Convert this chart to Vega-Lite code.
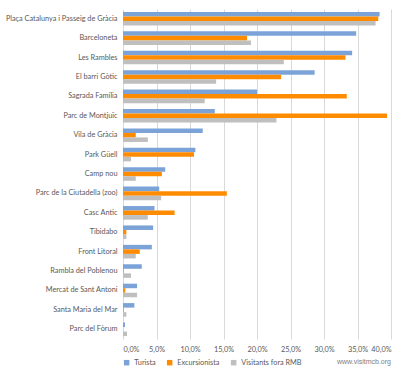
{
  "$schema": "https://vega.github.io/schema/vega-lite/v6.json",
  "width": 268,
  "height": 330,
  "padding": {"left": 5, "top": 9, "right": 10, "bottom": 5},
  "background": "white",
  "data": {"values": [
    {"lloc": "Plaça Catalunya i Passeig de Gràcia", "tipus": "Turista", "valor": 38.3},
    {"lloc": "Plaça Catalunya i Passeig de Gràcia", "tipus": "Excursionista", "valor": 38.1},
    {"lloc": "Plaça Catalunya i Passeig de Gràcia", "tipus": "Visitants fora RMB", "valor": 37.7},
    {"lloc": "Barceloneta", "tipus": "Turista", "valor": 34.8},
    {"lloc": "Barceloneta", "tipus": "Excursionista", "valor": 18.5},
    {"lloc": "Barceloneta", "tipus": "Visitants fora RMB", "valor": 19.1},
    {"lloc": "Les Rambles", "tipus": "Turista", "valor": 34.2},
    {"lloc": "Les Rambles", "tipus": "Excursionista", "valor": 33.2},
    {"lloc": "Les Rambles", "tipus": "Visitants fora RMB", "valor": 24.0},
    {"lloc": "El barri Gòtic", "tipus": "Turista", "valor": 28.6},
    {"lloc": "El barri Gòtic", "tipus": "Excursionista", "valor": 23.6},
    {"lloc": "El barri Gòtic", "tipus": "Visitants fora RMB", "valor": 13.9},
    {"lloc": "Sagrada Família", "tipus": "Turista", "valor": 20.0},
    {"lloc": "Sagrada Família", "tipus": "Excursionista", "valor": 33.4},
    {"lloc": "Sagrada Família", "tipus": "Visitants fora RMB", "valor": 12.2},
    {"lloc": "Parc de Montjuïc", "tipus": "Turista", "valor": 13.7},
    {"lloc": "Parc de Montjuïc", "tipus": "Excursionista", "valor": 39.4},
    {"lloc": "Parc de Montjuïc", "tipus": "Visitants fora RMB", "valor": 22.9},
    {"lloc": "Vila de Gràcia", "tipus": "Turista", "valor": 11.9},
    {"lloc": "Vila de Gràcia", "tipus": "Excursionista", "valor": 1.9},
    {"lloc": "Vila de Gràcia", "tipus": "Visitants fora RMB", "valor": 3.7},
    {"lloc": "Park Güell", "tipus": "Turista", "valor": 10.8},
    {"lloc": "Park Güell", "tipus": "Excursionista", "valor": 10.6},
    {"lloc": "Park Güell", "tipus": "Visitants fora RMB", "valor": 1.2},
    {"lloc": "Camp nou", "tipus": "Turista", "valor": 6.3},
    {"lloc": "Camp nou", "tipus": "Excursionista", "valor": 5.8},
    {"lloc": "Camp nou", "tipus": "Visitants fora RMB", "valor": 1.9},
    {"lloc": "Parc de la Ciutadella (zoo)", "tipus": "Turista", "valor": 5.4},
    {"lloc": "Parc de la Ciutadella (zoo)", "tipus": "Excursionista", "valor": 15.5},
    {"lloc": "Parc de la Ciutadella (zoo)", "tipus": "Visitants fora RMB", "valor": 5.7},
    {"lloc": "Casc Antic", "tipus": "Turista", "valor": 4.7},
    {"lloc": "Casc Antic", "tipus": "Excursionista", "valor": 7.7},
    {"lloc": "Casc Antic", "tipus": "Visitants fora RMB", "valor": 3.7},
    {"lloc": "Tibidabo", "tipus": "Turista", "valor": 4.5},
    {"lloc": "Tibidabo", "tipus": "Excursionista", "valor": 0.5},
    {"lloc": "Tibidabo", "tipus": "Visitants fora RMB", "valor": 0.5},
    {"lloc": "Front Litoral", "tipus": "Turista", "valor": 4.3},
    {"lloc": "Front Litoral", "tipus": "Excursionista", "valor": 2.5},
    {"lloc": "Front Litoral", "tipus": "Visitants fora RMB", "valor": 1.9},
    {"lloc": "Rambla del Poblenou", "tipus": "Turista", "valor": 2.8},
    {"lloc": "Rambla del Poblenou", "tipus": "Excursionista", "valor": 0.1},
    {"lloc": "Rambla del Poblenou", "tipus": "Visitants fora RMB", "valor": 1.2},
    {"lloc": "Mercat de Sant Antoni", "tipus": "Turista", "valor": 2.1},
    {"lloc": "Mercat de Sant Antoni", "tipus": "Excursionista", "valor": 0.35},
    {"lloc": "Mercat de Sant Antoni", "tipus": "Visitants fora RMB", "valor": 2.1},
    {"lloc": "Santa Maria del Mar", "tipus": "Turista", "valor": 1.7},
    {"lloc": "Santa Maria del Mar", "tipus": "Excursionista", "valor": 0.1},
    {"lloc": "Santa Maria del Mar", "tipus": "Visitants fora RMB", "valor": 0.5},
    {"lloc": "Parc del Fòrum", "tipus": "Turista", "valor": 0.3},
    {"lloc": "Parc del Fòrum", "tipus": "Excursionista", "valor": 0.0},
    {"lloc": "Parc del Fòrum", "tipus": "Visitants fora RMB", "valor": 0.6}
  ]},
  "title": {
    "text": "www.visitmcb.org",
    "orient": "bottom",
    "anchor": "end",
    "fontSize": 7,
    "font": "Liberation Sans",
    "fontWeight": "normal",
    "color": "#808080",
    "offset": -8
  },
  "mark": {"type": "bar", "height": {"band": 1}},
  "encoding": {
    "y": {
      "field": "lloc",
      "type": "nominal",
      "sort": null,
      "scale": {"paddingInner": 0.3, "paddingOuter": 0.15},
      "axis": {"title": null, "ticks": false, "domain": false, "labelFont": "Lato", "labelFontSize": 7.3, "labelColor": "#595959", "labelPadding": 6, "labelLimit": 200}
    },
    "yOffset": {"field": "tipus", "type": "nominal", "sort": ["Turista", "Excursionista", "Visitants fora RMB"]},
    "x": {
      "field": "valor",
      "type": "quantitative",
      "scale": {"domain": [0, 40], "nice": false},
      "axis": {"title": null, "values": [0, 5, 10, 15, 20, 25, 30, 35, 40], "labelExpr": "replace(format(datum.value, '.1f'), '.', ',') + '%'", "ticks": false, "domain": false, "gridColor": "#d9d9d9", "labelFont": "Lato", "labelFontSize": 7.3, "labelColor": "#595959", "labelPadding": 6}
    },
    "color": {
      "field": "tipus",
      "type": "nominal",
      "sort": ["Turista", "Excursionista", "Visitants fora RMB"],
      "scale": {"domain": ["Turista", "Excursionista", "Visitants fora RMB"], "range": ["#7ba3d8", "#ff8c00", "#bfbfbf"]},
      "legend": {"title": null, "orient": "bottom", "direction": "horizontal", "symbolType": "square", "symbolSize": 30, "labelFont": "Lato", "labelFontSize": 7.3, "labelColor": "#595959", "offset": 6, "columnPadding": 10, "symbolStrokeWidth": 0}
    }
  },
  "config": {"view": {"stroke": null}}
}
